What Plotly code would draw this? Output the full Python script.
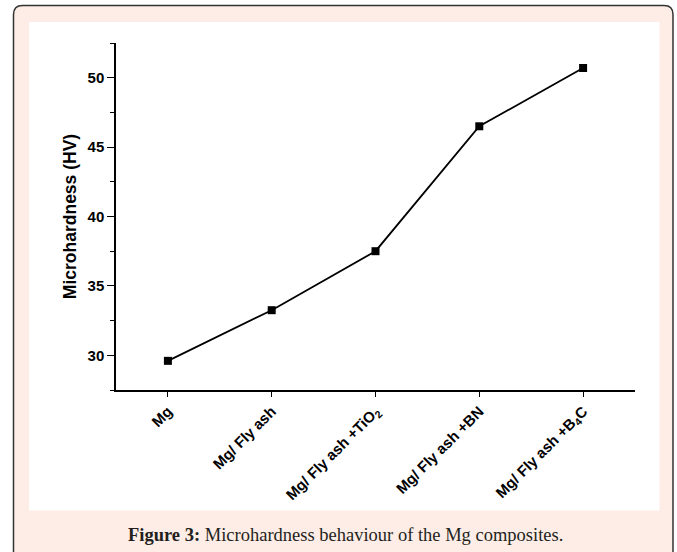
import plotly.graph_objects as go

categories = ["Mg", "Mg/ Fly ash", "Mg/ Fly ash +TiO<sub>2</sub>", "Mg/ Fly ash +BN", "Mg/ Fly ash +B<sub>4</sub>C"]
hardness = [29.6, 33.25, 37.5, 46.5, 50.7]
y_ticks = [30, 35, 40, 45, 50]

W, H = 677, 552
L, R, T, B = 116, 635, 43, 390  # plot area in pixels

def px(x):
    return (x - L) / (R - L)

def py(y):
    return (B - y) / (B - T)

fig = go.Figure()
fig.add_trace(go.Scatter(
    x=list(range(len(categories))), y=hardness, mode="lines+markers",
    line=dict(color="black", width=1.8),
    marker=dict(symbol="square", size=8, color="black"),
    showlegend=False, hoverinfo="skip",
))

# frame: rounded outer pink panel, white inner panel
x0, x1, y0, y1, r = 13.5, 673, 5.5, 570, 9
path = (f"M {px(x0)},{py(y0 + r)} Q {px(x0)},{py(y0)} {px(x0 + r)},{py(y0)} "
        f"L {px(x1 - r)},{py(y0)} Q {px(x1)},{py(y0)} {px(x1)},{py(y0 + r)} "
        f"L {px(x1)},{py(y1)} L {px(x0)},{py(y1)} Z")
shapes = [
    dict(type="path", xref="paper", yref="paper", path=path,
         fillcolor="#FDEDE6", line=dict(color="#333333", width=1.5), layer="below"),
    dict(type="rect", xref="paper", yref="paper",
         x0=px(29), x1=px(659.5), y0=py(22), y1=py(510.5),
         fillcolor="white", line=dict(width=0), layer="below"),
]

fig.update_layout(
    width=W, height=H,
    margin=dict(l=L, r=W - R, t=T, b=H - B),
    paper_bgcolor="white", plot_bgcolor="rgba(0,0,0,0)",
    shapes=shapes,
    font=dict(family="Liberation Sans, Arial", color="black"),
    xaxis=dict(
        range=[-0.5, 4.5], tickmode="array",
        tickvals=list(range(len(categories))), ticktext=[f"<b>{c}</b>" for c in categories],
        tickangle=-45, ticks="outside", ticklen=5, tickwidth=1.3, tickcolor="black",
        showline=True, linecolor="black", linewidth=1.5, showgrid=False, zeroline=False,
        tickfont=dict(size=15, family="Liberation Sans, Arial", color="black"),
    ),
    yaxis=dict(
        range=[27.5, 52.5], tickmode="array", tickvals=y_ticks,
        ticktext=[f"<b>{v}</b>" for v in y_ticks],
        ticks="outside", ticklen=7, tickwidth=1.3, tickcolor="black",
        minor=dict(dtick=2.5, tick0=27.5, ticks="outside", ticklen=4, tickwidth=1.2, tickcolor="black", showgrid=False),
        showline=True, linecolor="black", linewidth=1.5, showgrid=False, zeroline=False,
        tickfont=dict(size=15, family="Liberation Sans, Arial", color="black"),
        title=dict(text="<b>Microhardness (HV)</b>", font=dict(size=17.5, family="Liberation Sans, Arial"), standoff=6),
    ),
    annotations=[dict(
        xref="paper", yref="paper", x=px(345), y=py(535), xanchor="center", yanchor="middle",
        text="<b>Figure 3:</b> Microhardness behaviour of the Mg composites.", showarrow=False,
        font=dict(size=18.5, family="Liberation Serif, Times New Roman", color="#231F20"),
    )],
)

fig.write_html("out.html", config={"displayModeBar": False},
               post_script="document.body.style.margin='0';")
